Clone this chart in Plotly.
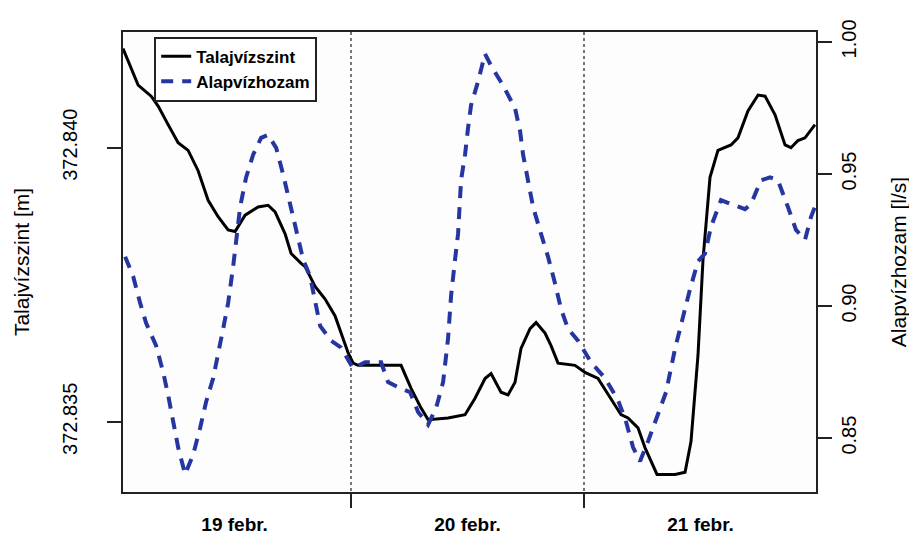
import plotly.graph_objects as go

# hours since 19 Feb 00:00
talaj_h = [0.5, 2.06, 3.40, 4.12, 5.15, 6.18, 7.21, 8.24, 9.27, 10.30, 11.33, 12.05, 13.08, 14.42,
           15.45, 16.17, 17.20, 17.82, 18.85, 19.26, 20.29, 21.32, 22.35, 22.97, 23.69, 24.21, 24.72,
           29.15, 30.18, 31.21, 31.93, 33.99, 35.74, 36.77, 37.80, 38.42, 39.45, 40.17, 40.89, 41.51,
           42.44, 43.06, 43.98, 44.60, 45.32, 47.07, 48.10, 49.44, 50.78, 51.81, 52.53, 53.56, 54.28,
           55.52, 57.38, 58.41, 59.02, 59.74, 60.26, 60.98, 61.80, 63.14, 63.86, 64.89, 65.93, 66.65,
           67.68, 68.71, 69.32, 70.04, 70.77, 71.80]
talaj_v = [372.84181, 372.84114, 372.84094, 372.84076, 372.84042, 372.84009, 372.83995, 372.83958,
           372.83904, 372.83874, 372.83850, 372.83847, 372.83877, 372.83892, 372.83895, 372.83883,
           372.83843, 372.83807, 372.83789, 372.83783, 372.83747, 372.83724, 372.83693, 372.83662,
           372.83626, 372.83607, 372.83603, 372.83603, 372.83561, 372.83525, 372.83504, 372.83507,
           372.83513, 372.83543, 372.83579, 372.83588, 372.83554, 372.83549, 372.83572, 372.83634,
           372.83670, 372.83681, 372.83662, 372.83639, 372.83607, 372.83603, 372.83590, 372.83579,
           372.83543, 372.83513, 372.83507, 372.83489, 372.83453, 372.83404, 372.83404, 372.83408,
           372.83464, 372.83621, 372.83796, 372.83946, 372.83995, 372.84005, 372.84018, 372.84067,
           372.84096, 372.84094, 372.84060, 372.84005, 372.84000, 372.84013, 372.84018, 372.84042]

alap_h = [0.72, 1.55, 2.27, 2.88, 3.91, 4.64, 5.15, 5.67, 6.18, 6.90, 7.73, 8.45, 9.06, 9.79, 10.30,
          10.82, 11.33, 11.85, 12.57, 13.18, 13.91, 14.73, 15.45, 16.28, 17.00, 17.72, 18.54, 19.06,
          19.78, 20.29, 20.81, 21.94, 22.97, 24.21, 25.44, 27.09, 27.81, 28.84, 30.08, 30.90, 31.93,
          32.76, 33.48, 33.99, 34.30, 34.71, 35.02, 35.33, 35.74, 36.05, 36.36, 37.08, 37.80, 38.42,
          39.66, 40.89, 41.41, 41.72, 42.23, 42.75, 43.57, 44.29, 45.01, 45.63, 46.35, 47.38, 48.72,
          50.16, 51.50, 52.33, 53.05, 53.77, 54.59, 55.62, 56.45, 57.38, 58.20, 58.92, 59.74, 60.47,
          61.08, 62.11, 63.14, 64.59, 65.20, 66.23, 67.16, 67.98, 69.01, 69.84, 70.77, 71.38, 71.90]
alap_v = [0.9187, 0.9112, 0.9011, 0.8936, 0.8850, 0.8749, 0.8663, 0.8562, 0.8465, 0.8363, 0.8438,
          0.8539, 0.8637, 0.8727, 0.8813, 0.8914, 0.9011, 0.9150, 0.9375, 0.9487, 0.9573, 0.9637,
          0.9648, 0.9599, 0.9498, 0.9386, 0.9273, 0.9176, 0.9112, 0.9011, 0.8925, 0.8869, 0.8843,
          0.8764, 0.8787, 0.8787, 0.8712, 0.8693, 0.8674, 0.8599, 0.8551, 0.8614, 0.8712, 0.8877,
          0.9038, 0.9176, 0.9273, 0.9476, 0.9573, 0.9674, 0.9760, 0.9850, 0.9955, 0.9910, 0.9835,
          0.9749, 0.9663, 0.9573, 0.9476, 0.9375, 0.9273, 0.9187, 0.9086, 0.8989, 0.8914, 0.8869,
          0.8787, 0.8727, 0.8644, 0.8562, 0.8465, 0.8412, 0.8487, 0.8588, 0.8674, 0.8839, 0.8963,
          0.9064, 0.9169, 0.9199, 0.9300, 0.9401, 0.9386, 0.9367, 0.9386, 0.9476, 0.9487, 0.9476,
          0.9375, 0.9288, 0.9251, 0.9337, 0.9386]

day_label_pos = [12, 36, 60]
day_labels = ["<b>19 febr.</b>", "<b>20 febr.</b>", "<b>21 febr.</b>"]
day_bounds = [24, 48]
left_ticks = [372.835, 372.840]
left_ticktext = ["372.835", "372.840"]
right_ticks = [0.85, 0.90, 0.95, 1.00]
right_ticktext = ["0.85", "0.90", "0.95", "1.00"]

FONT = "Liberation Sans, Arial, sans-serif"
BLUE = "#2636a0"

fig = go.Figure()
fig.add_trace(go.Scatter(x=talaj_h, y=talaj_v, mode="lines", name="<b>Talajvízszint</b>",
                         line=dict(color="black", width=3), yaxis="y"))
fig.add_trace(go.Scatter(x=alap_h, y=alap_v, mode="lines", name="<b>Alapvízhozam</b>",
                         line=dict(color=BLUE, width=4, dash="12px,9px"), yaxis="y2"))

fig.update_layout(
    width=917, height=539,
    margin=dict(l=115, r=109, t=23, b=51),
    paper_bgcolor="white", plot_bgcolor="#fdfdfd",
    font=dict(family=FONT, color="black"),
    showlegend=True,
    legend=dict(x=0.045, y=0.99, xanchor="left", yanchor="top",
                bordercolor="#222", borderwidth=2, bgcolor="rgba(255,255,255,0.9)",
                font=dict(size=17, family=FONT), tracegroupgap=0),
    xaxis=dict(range=[0.5, 71.9], tickmode="array", tickvals=day_label_pos, ticktext=day_labels,
               ticks="", showgrid=False, zeroline=False,
               showline=True, linecolor="#222", linewidth=2, mirror=True,
               tickfont=dict(size=19, family=FONT), ticklabelstandoff=14,
               minor=dict(tickmode="array", tickvals=day_bounds, ticks="outside", ticklen=14,
                          tickwidth=2, tickcolor="#222", showgrid=True, griddash="dot",
                          gridcolor="#777", gridwidth=1.5)),
    yaxis=dict(range=[372.83372, 372.84211], tickmode="array", tickvals=left_ticks,
               ticktext=left_ticktext, ticks="outside", ticklen=14, tickwidth=2, tickcolor="#222",
               tickangle=-90, tickfont=dict(size=20, family=FONT), ticklabelstandoff=22,
               showgrid=False, zeroline=False, showline=True, linecolor="#222", linewidth=2,
               mirror=True,
               title=dict(text="Talajvízszint [m]", font=dict(size=21, family=FONT), standoff=24)),
    yaxis2=dict(range=[0.8296, 1.00375], overlaying="y", side="right", tickmode="array",
                tickvals=right_ticks, ticktext=right_ticktext, ticks="outside", ticklen=14,
                tickwidth=2, tickcolor="#222", tickangle=-90, tickfont=dict(size=20, family=FONT),
                showgrid=False, zeroline=False, showline=True, linecolor="#222", linewidth=2,
                title=dict(text="Alapvízhozam [l/s]", font=dict(size=21, family=FONT), standoff=32)),
)

fig.write_html("out.html")
